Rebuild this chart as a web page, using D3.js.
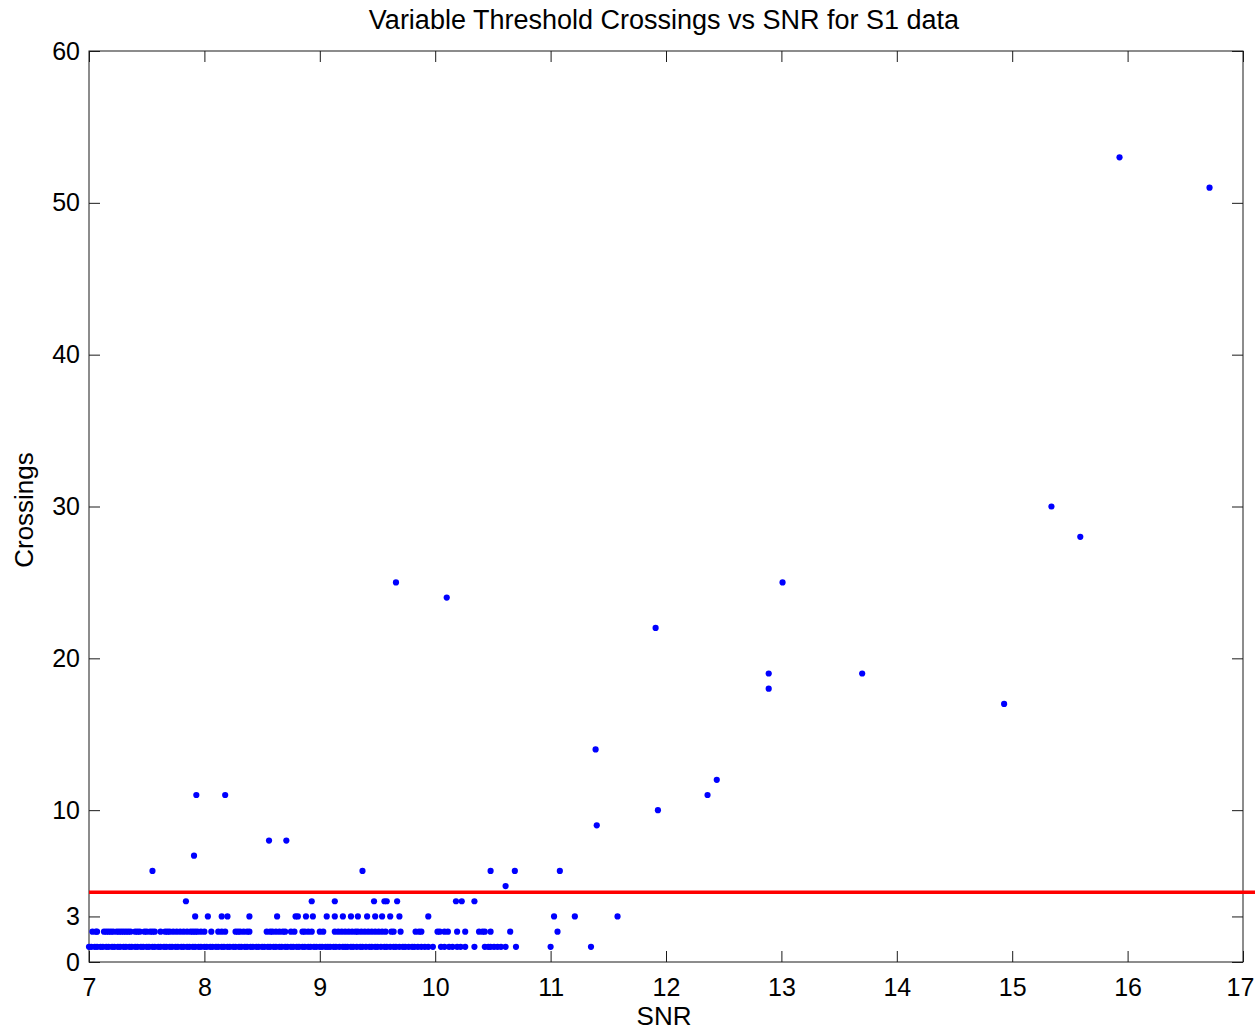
<!DOCTYPE html>
<html>
<head>
<meta charset="utf-8">
<script src="https://cdn.jsdelivr.net/npm/d3@7"></script>
<style>
  html, body { margin: 0; padding: 0; background: #fff; }
  svg { display: block; }
  text { font-family: "Liberation Sans", Arial, Helvetica, sans-serif; fill: #000; }
</style>
</head>
<body>
<svg id="chart" width="1255" height="1032"></svg>
<script>
// ---------------- DATA ----------------
const titleText = "Variable Threshold Crossings vs SNR for S1 data";
const xLabel = "SNR";
const yLabel = "Crossings";
const xTicks = [7, 8, 9, 10, 11, 12, 13, 14, 15, 16, 17];
const yTicks = [0, 3, 10, 20, 30, 40, 50, 60];
const xDomain = [7, 17];
const yDomain = [0, 60];

// SNR values of events with 1 crossing
const snrCross1 = [
  7.00, 7.02, 7.05, 7.07, 7.10, 7.12, 7.15, 7.17, 7.20, 7.22, 7.25, 7.27, 7.30, 7.32, 7.35, 7.37,
  7.40, 7.42, 7.45, 7.47, 7.50, 7.52, 7.55, 7.57, 7.60, 7.62, 7.65, 7.67, 7.70, 7.72, 7.75, 7.77,
  7.80, 7.82, 7.85, 7.87, 7.90, 7.92, 7.95, 7.97, 8.00, 8.02, 8.05, 8.07, 8.10, 8.12, 8.15, 8.17,
  8.20, 8.22, 8.25, 8.27, 8.30, 8.32, 8.35, 8.37, 8.40, 8.42, 8.45, 8.47, 8.50, 8.52, 8.55, 8.57,
  8.60, 8.62, 8.65, 8.67, 8.70, 8.72, 8.75, 8.77, 8.80, 8.82, 8.85, 8.87, 8.90, 8.92, 8.95, 8.97,
  9.00, 9.02, 9.05, 9.07, 9.09, 9.12, 9.14, 9.17, 9.20, 9.22, 9.24, 9.27, 9.29, 9.32, 9.35, 9.37,
  9.40, 9.43, 9.45, 9.48, 9.50, 9.53, 9.56, 9.58, 9.61, 9.64, 9.66, 9.69, 9.72, 9.74, 9.77, 9.80,
  9.82, 9.85, 9.88, 9.91, 9.94, 9.98, 10.05, 10.08, 10.12, 10.15, 10.19, 10.22, 10.26, 10.34,
  10.43, 10.46, 10.48, 10.51, 10.54, 10.57, 10.61, 10.70, 11.00, 11.35
];
// 2 crossings
const snrCross2 = [
  7.03, 7.06, 7.07, 7.13, 7.15, 7.17, 7.19, 7.21, 7.24, 7.26, 7.28, 7.30, 7.32, 7.34, 7.36, 7.40,
  7.42, 7.44, 7.48, 7.50, 7.53, 7.55, 7.57, 7.62, 7.66, 7.68, 7.70, 7.73, 7.76, 7.79, 7.82, 7.85,
  7.88, 7.90, 7.92, 7.94, 7.97, 8.00, 8.06, 8.12, 8.15, 8.18, 8.27, 8.29, 8.31, 8.34, 8.37, 8.39,
  8.54, 8.57, 8.59, 8.62, 8.65, 8.68, 8.70, 8.75, 8.78, 8.85, 8.87, 8.90, 8.93, 9.00, 9.03, 9.13,
  9.16, 9.19, 9.22, 9.25, 9.28, 9.31, 9.33, 9.36, 9.39, 9.42, 9.45, 9.48, 9.51, 9.54, 9.57, 9.62,
  9.64, 9.70, 9.83, 9.86, 9.88, 10.02, 10.04, 10.08, 10.11, 10.19, 10.26, 10.38, 10.41, 10.43,
  10.48, 10.65, 11.06
];
// 3 crossings
const snrCross3 = [
  7.92, 8.03, 8.15, 8.20, 8.39, 8.63, 8.79, 8.81, 8.88, 8.94, 9.06, 9.13, 9.20, 9.27, 9.33, 9.41,
  9.48, 9.54, 9.61, 9.69, 9.94, 11.03, 11.21, 11.58
];
// 4 crossings
const snrCross4 = [7.84, 8.93, 9.13, 9.47, 9.56, 9.58, 9.67, 10.18, 10.23, 10.34];
// higher crossing counts: SNR and crossings
const snrHigh = [10.61, 7.55, 9.37, 10.48, 10.69, 11.08, 7.91, 8.56, 8.71, 7.93, 8.18, 9.66, 10.10,
  11.39, 11.40, 11.91, 11.93, 12.36, 12.44, 12.89, 12.89, 13.01, 13.70, 14.93, 15.34, 15.59, 15.93, 16.71];
const crossHigh = [5, 6, 6, 6, 6, 6, 7, 8, 8, 11, 11, 25, 24,
  14, 9, 22, 10, 11, 12, 19, 18, 25, 19, 17, 30, 28, 53, 51];

// threshold line
const thresholdSNR = [7, 17.11];
const thresholdValue = 4.6;

// ---------------- CHART ----------------
const svg = d3.select("#chart");
const L = 89, R = 1243, T = 51, B = 962;
const x = d3.scaleLinear().domain(xDomain).range([L, R]);
const y = d3.scaleLinear().domain(yDomain).range([B, T]);

const points = [];
snrCross1.forEach(s => points.push([s, 1]));
snrCross2.forEach(s => points.push([s, 2]));
snrCross3.forEach(s => points.push([s, 3]));
snrCross4.forEach(s => points.push([s, 4]));
snrHigh.forEach((s, i) => points.push([s, crossHigh[i]]));

const tickLen = 11;
const axisColor = "#1a1a1a";
const fontSize = 25;

// box
svg.append("rect").attr("x", L).attr("y", T).attr("width", R - L).attr("height", B - T)
  .attr("fill", "none").attr("stroke", axisColor).attr("stroke-width", 1);

// axes with inward ticks
const gx = svg.append("g").attr("transform", `translate(0,${B})`)
  .call(d3.axisBottom(x).tickValues(xTicks).tickSizeInner(-tickLen).tickSizeOuter(0).tickPadding(16).tickFormat(d3.format("d")));
const gxTop = svg.append("g").attr("transform", `translate(0,${T})`)
  .call(d3.axisTop(x).tickValues(xTicks).tickSizeInner(-tickLen).tickSizeOuter(0).tickFormat(""));
const gy = svg.append("g").attr("transform", `translate(${L},0)`)
  .call(d3.axisLeft(y).tickValues(yTicks).tickSizeInner(-tickLen).tickSizeOuter(0).tickPadding(9).tickFormat(d3.format("d")));
const gyR = svg.append("g").attr("transform", `translate(${R},0)`)
  .call(d3.axisRight(y).tickValues(yTicks).tickSizeInner(-tickLen).tickSizeOuter(0).tickFormat(""));

[gx, gxTop, gy, gyR].forEach(g => {
  g.select(".domain").remove();
  g.selectAll(".tick line").attr("stroke", axisColor).attr("stroke-width", 1);
  g.selectAll(".tick text").attr("font-size", fontSize).attr("fill", "#000")
    .style("font-family", '"Liberation Sans", Arial, sans-serif');
});
gx.selectAll(".tick text").attr("dy", "0.71em")
  .attr("dx", d => d === xDomain[1] ? -3 : 0);

// points
svg.append("g").selectAll("circle").data(points).join("circle")
  .attr("cx", d => x(d[0])).attr("cy", d => y(d[1])).attr("r", 3.1)
  .attr("fill", "#0000ff");

// threshold line
svg.append("line")
  .attr("x1", x(thresholdSNR[0])).attr("x2", x(thresholdSNR[1]))
  .attr("y1", y(thresholdValue)).attr("y2", y(thresholdValue))
  .attr("stroke", "#ff0000").attr("stroke-width", 3.5);

// title & labels
svg.append("text").attr("x", 664).attr("y", 29).attr("text-anchor", "middle")
  .attr("font-size", 27).text(titleText);
svg.append("text").attr("x", 664).attr("y", 1025).attr("text-anchor", "middle")
  .attr("font-size", 26).text(xLabel);
svg.append("text").attr("transform", "translate(33,510) rotate(-90)").attr("text-anchor", "middle")
  .attr("font-size", 26).text(yLabel);
</script>
</body>
</html>
